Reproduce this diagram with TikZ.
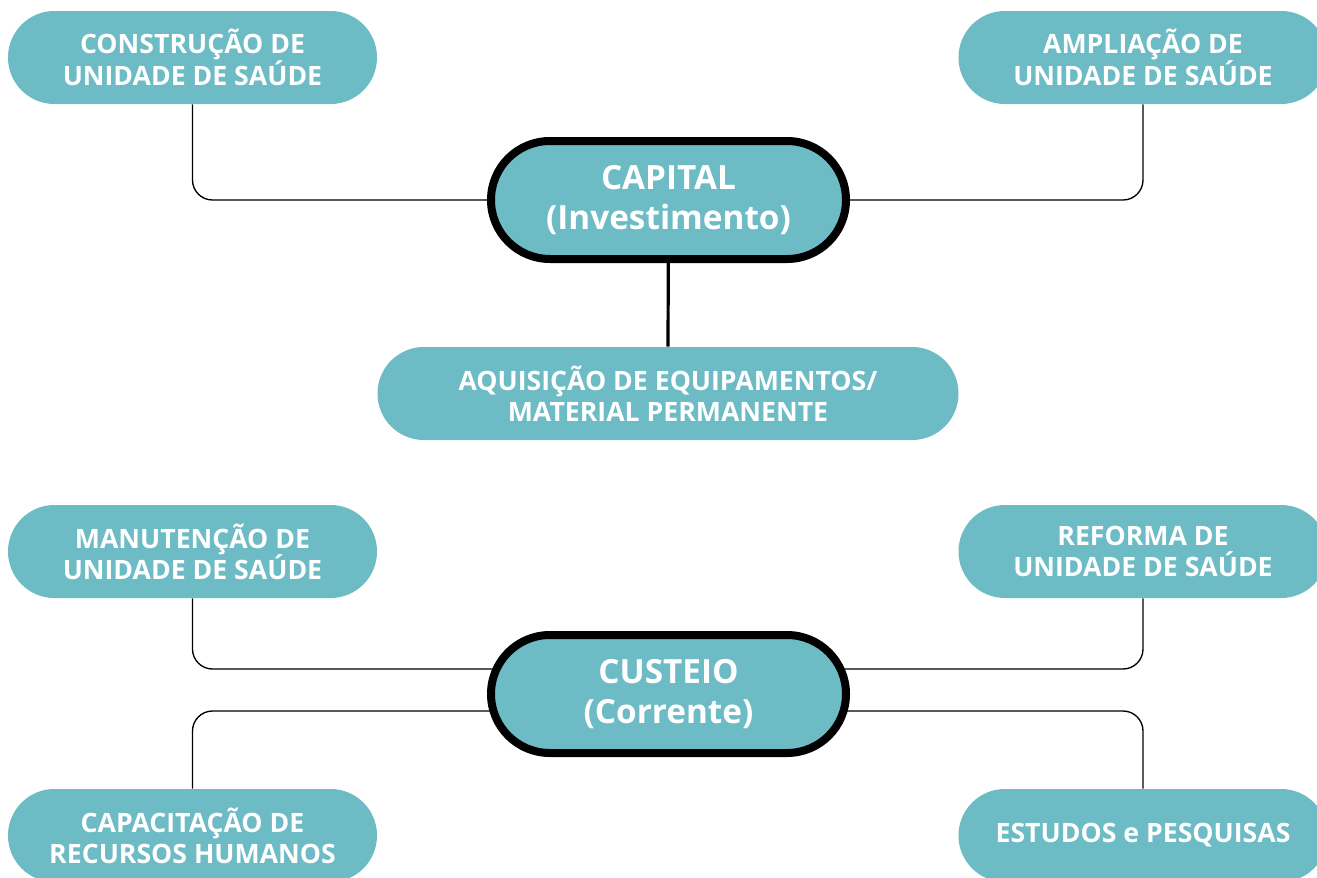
\documentclass[tikz,border=0pt]{standalone}
\usepackage{fontspec}
\setmainfont{Open Sans}
\usetikzlibrary{backgrounds}
\definecolor{teal}{HTML}{6CBBC5}
\tikzset{
  leaf/.style={fill=teal, text=white, font=\bfseries\fontsize{20}{23.5}\selectfont,
    align=center, minimum width=276.75pt, minimum height=69.75pt,
    rounded corners=34.8pt, inner sep=0pt},
  wideleaf/.style={leaf, minimum width=435.75pt},
  hub/.style={fill=teal, draw=black, line width=6pt, text=white,
    font=\bfseries\fontsize{25}{30.5}\selectfont, align=center,
    minimum width=266.25pt, minimum height=88.5pt, rounded corners=44.2pt, inner sep=0pt},
  branch/.style={draw=black, line width=1pt, rounded corners=15pt},
  stem/.style={draw=black, line width=2.4pt}
}
\begin{document}
\begin{tikzpicture}[x=0.75pt, y=-0.75pt]
  \useasboundingbox (0,0) rectangle (1317,878);
  \clip (0,0) rectangle (1317,878);

  % capital group
  \node[hub] (capital) at (668.5,200) {CAPITAL\\(Investimento)};
  \node[leaf] (construcao) at (192.5,57.5) {CONSTRUÇÃO DE\\UNIDADE DE SAÚDE};
  \node[leaf] (ampliacao) at (1143,57.5) {AMPLIAÇÃO DE\\UNIDADE DE SAÚDE};
  \node[wideleaf] (aquisicao) at (668,393.5) {AQUISIÇÃO DE EQUIPAMENTOS/\\MATERIAL PERMANENTE};

  % custeio group
  \node[hub] (custeio) at (668.5,694) {CUSTEIO\\(Corrente)};
  \node[leaf] (manutencao) at (192.5,551.5) {MANUTENÇÃO DE\\UNIDADE DE SAÚDE};
  \node[leaf] (reforma) at (1143,551.5) {REFORMA DE\\UNIDADE DE SAÚDE};
  \node[leaf] (capacitacao) at (192.5,835.5) {CAPACITAÇÃO DE\\RECURSOS HUMANOS};
  \node[leaf] (estudos) at (1143,835.5) {ESTUDOS e PESQUISAS};

  \begin{pgfonlayer}{background}
    \draw[branch] (construcao.south) |- (capital.center);
    \draw[branch] (ampliacao.south) |- (capital.center);
    \draw[stem] (capital.center) -- (aquisicao.north);
    \draw[branch] (manutencao.south) |- ([yshift=18.75pt]custeio.center);
    \draw[branch] (reforma.south) |- ([yshift=18.75pt]custeio.center);
    \draw[branch] (capacitacao.north) |- ([yshift=-12.75pt]custeio.center);
    \draw[branch] (estudos.north) |- ([yshift=-12.75pt]custeio.center);
  \end{pgfonlayer}
\end{tikzpicture}
\end{document}
